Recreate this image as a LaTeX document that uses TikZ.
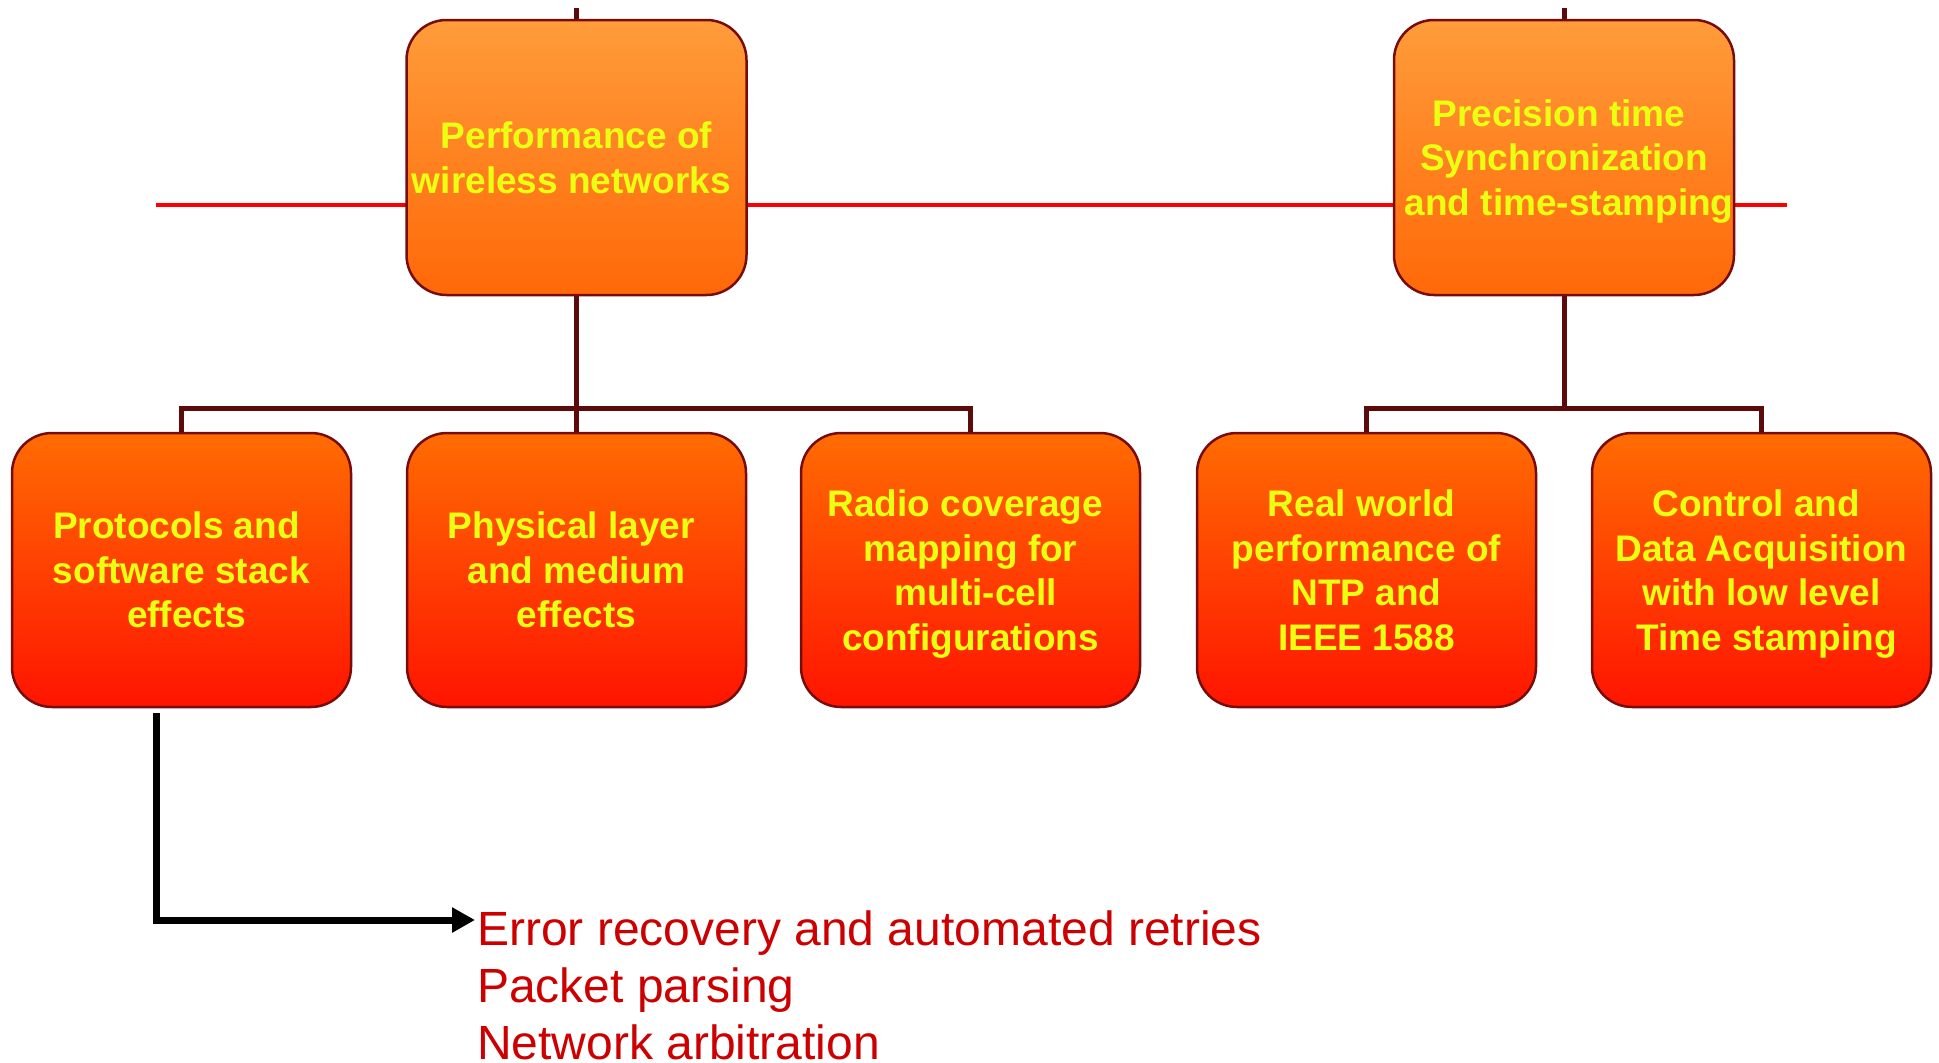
\documentclass[tikz,border=0pt]{standalone}
\usepackage{fontspec}
\setmainfont{Liberation Sans}
\usetikzlibrary{arrows.meta,backgrounds}

\definecolor{labelyellow}{RGB}{236,255,18}
\definecolor{edgered}{RGB}{120,12,12}
\definecolor{treeline}{RGB}{92,10,10}
\definecolor{axisred}{RGB}{255,0,0}
\definecolor{listred}{RGB}{204,0,0}
\definecolor{upperTop}{RGB}{255,156,58}
\definecolor{upperBot}{RGB}{255,104,8}
\definecolor{lowerTop}{RGB}{255,108,2}
\definecolor{lowerBot}{RGB}{255,20,0}

% struts that centre the cap height of a label block in its card
\newcommand\firstln{\rule{0pt}{36pt}}
\newcommand\lastln{\rule[-9.5pt]{0pt}{0pt}}
% a word space kept at the start or end of a centred line
\newcommand\wsp{\hspace*{.278em}}

\tikzset{
  card/.style={draw=edgered, line width=2.5pt, rounded corners=40pt,
    inner sep=0pt, align=center, text=labelyellow,
    font=\fontsize{37}{44.5}\selectfont\bfseries},
  uppercard/.style={card, minimum width=340pt, minimum height=275pt,
    top color=upperTop, bottom color=upperBot},
  lowercard/.style={card, minimum width=339pt, minimum height=274pt,
    top color=lowerTop, bottom color=lowerBot},
  treelink/.style={draw=treeline, line width=5pt},
  axisline/.style={draw=axisred, line width=3.5pt},
  pointer/.style={draw=black, line width=7pt,
    -{Triangle[length=23pt,width=24pt]}},
}

\begin{document}
\begin{tikzpicture}[x=1pt,y=-1pt]
\useasboundingbox (0,0) rectangle (1939,1063);

% junction points of the two trees
\coordinate (inL) at (576.5,8);
\coordinate (inR) at (1564,8);
\coordinate (busL) at (576.5,408);
\coordinate (busR) at (1564,408);
\coordinate (axisL) at (156,205);
\coordinate (axisR) at (1787,205);

% upper cards
\node[uppercard] (perf) at (576.5,157.5)
  {\firstln Performance of\\wireless networks\wsp\lastln};
\node[uppercard] (sync) at (1564,157.5)
  {\firstln Precision time\wsp\\Synchronization\\\wsp and time-stamping\lastln};

% lower cards
\node[lowercard] (proto) at (181.5,570)
  {\firstln Protocols and\wsp\\software stack\\\wsp effects\lastln};
\node[lowercard] (phys)  at (576.5,570)
  {\firstln Physical layer\wsp\\and medium\wsp\\effects\lastln};
\node[lowercard] (radio) at (970.5,570)
  {\firstln Radio coverage\wsp\\mapping for\\\wsp multi-cell\\configurations\lastln};
\node[lowercard] (ntp)   at (1366.5,570)
  {\firstln Real world\wsp\\performance of\wsp\\NTP and\wsp\\IEEE 1588\lastln};
\node[lowercard] (daq)   at (1761.5,570)
  {\firstln Control and\wsp\\Data Acquisition\wsp\\with low level\wsp\\\wsp Time stamping\lastln};

% axis and tree connectors, behind the cards
\begin{pgfonlayer}{background}
\draw[axisline] (axisL) -- (axisR);
\draw[treelink] (inL) -- (perf.north);
\draw[treelink] (inR) -- (sync.north);
\draw[treelink] (perf.south) -- (busL);
\draw[treelink] (proto.north) |- (busL) -| (radio.north);
\draw[treelink] (phys.north) -- (busL);
\draw[treelink] (sync.south) -- (busR);
\draw[treelink] (ntp.north) |- (busR) -| (daq.north);
\end{pgfonlayer}

% detail list for the protocols card
\node[anchor=base west, inner sep=0pt, align=left, text=listred,
      font=\fontsize{48}{57}\selectfont] (details) at (477,1059)
  {Error recovery and automated retries\\Packet parsing\\Network arbitration};
\coordinate (tip) at (475,920);
\draw[pointer] ([xshift=-25.5pt,yshift=-5pt]proto.south) |- (tip);
\end{tikzpicture}
\end{document}
